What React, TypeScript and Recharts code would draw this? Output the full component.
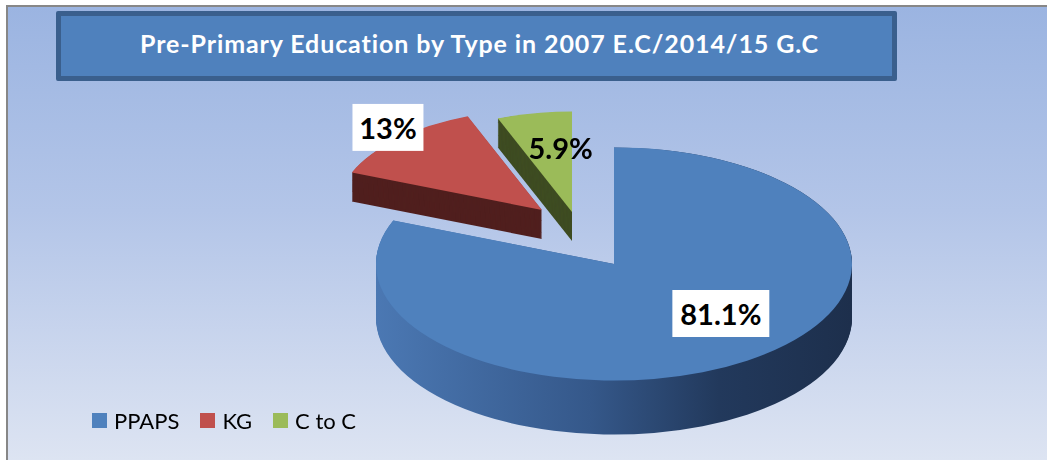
import React from 'react';
import { PieChart, Pie, Cell } from 'recharts';

const title = 'Pre-Primary Education by Type in 2007 E.C/2014/15 G.C';
const categories = ['PPAPS', 'KG', 'C to C'];
const values = [81.1, 13, 5.9];
const topColors = ['#4f81bd', '#c0504d', '#9bbb59'];
const sideColors = ['url(#blueSide)', '#501f1e', '#3f4c22'];

const data = categories.map((name, i) => ({ name, value: values[i] }));

const W = 1047;
const H = 460;
const S = 0.49; // vertical squash of the pie (3D tilt)
const HU = Math.ceil(H / S);

// per-slice placement in screen px (explosion / perspective styling)
const geom = [
  { cx: 614, cy: 264, r: 238, depth: 54, dx: 7, dy: -23, box: true },
  { cx: 542, cy: 210, r: 205, depth: 29, dx: -46, dy: -29, box: true },
  { cx: 572, cy: 212, r: 205, depth: 29, dx: 17, dy: 10, box: false },
];
const drawOrder = [2, 1, 0];
const RAD = Math.PI / 180;

const makeLabel = (target: number) => (props: any) => {
  const { cx, cy, midAngle, outerRadius, index, value } = props;
  if (index !== target) return <g />;
  const g = geom[target];
  const k = 0.75;
  const x = cx + k * outerRadius * Math.cos(-midAngle * RAD) + g.dx;
  const y = cy + k * outerRadius * Math.sin(-midAngle * RAD) + g.dy / S;
  const txt = `${value}%`;
  const w = 13 * txt.length + 32;
  const h = 47;
  return (
    <g transform={`translate(${x},${y}) scale(1,${1 / S})`}>
      {g.box && <rect x={-w / 2} y={-h / 2} width={w} height={h} fill="#ffffff" />}
      <text
        x={0}
        y={0}
        textAnchor="middle"
        dominantBaseline="central"
        fontFamily="Lato, 'Open Sans', sans-serif"
        fontWeight={700}
        fontSize={29}
        fill="#000000"
      >
        {txt}
      </text>
    </g>
  );
};

function slicePies(i: number) {
  const g = geom[i];
  const cyU = g.cy / S;
  const depthU = g.depth / S;
  const out: React.ReactNode[] = [];
  for (let d = depthU; d > 0; d -= 2) {
    out.push(
      <Pie
        key={`side-${i}-${d}`}
        data={data}
        dataKey="value"
        nameKey="name"
        cx={g.cx}
        cy={cyU + d}
        outerRadius={g.r}
        startAngle={90}
        endAngle={-270}
        stroke="none"
        isAnimationActive={false}
        legendType="none"
      >
        {data.map((_, j) => (
          <Cell key={j} fill={j === i ? sideColors[i] : 'none'} stroke="none" />
        ))}
      </Pie>
    );
  }
  out.push(
    <Pie
      key={`top-${i}`}
      data={data}
      dataKey="value"
      nameKey="name"
      cx={g.cx}
      cy={cyU}
      outerRadius={g.r}
      startAngle={90}
      endAngle={-270}
      stroke="none"
      isAnimationActive={false}
      legendType="none"
      label={makeLabel(i)}
      labelLine={false}
    >
      {data.map((_, j) => (
        <Cell key={j} fill={j === i ? topColors[i] : 'none'} stroke="none" />
      ))}
    </Pie>
  );
  return out;
}

export default function App() {
  return (
    <div
      style={{
        position: 'absolute',
        left: 0,
        top: 0,
        width: W,
        height: H,
        overflow: 'hidden',
        background: '#ffffff',
        fontFamily: 'Lato, sans-serif',
      }}
    >
      <div
        style={{
          position: 'absolute',
          left: 6,
          top: 5,
          width: W - 6,
          height: H - 5,
          boxSizing: 'border-box',
          borderTop: '2px solid #878787',
          borderLeft: '2px solid #878787',
          background: 'linear-gradient(to bottom, #9bb4e1 0%, #b3c5e8 45%, #dde4f2 100%)',
        }}
      />
      <div style={{ position: 'absolute', left: 0, top: 0, transform: `scaleY(${S})`, transformOrigin: '0 0' }}>
        <PieChart width={W} height={HU} margin={{ top: 0, right: 0, bottom: 0, left: 0 }}>
          <defs>
            <linearGradient id="blueSide" gradientUnits="userSpaceOnUse" x1={376} y1={0} x2={852} y2={0}>
              <stop offset="0%" stopColor="#4b78b3" />
              <stop offset="45%" stopColor="#35588a" />
              <stop offset="72%" stopColor="#22395c" />
              <stop offset="100%" stopColor="#1d2f4c" />
            </linearGradient>
          </defs>
          {drawOrder.flatMap((i) => slicePies(i))}
        </PieChart>
      </div>

      <div
        style={{
          position: 'absolute',
          left: 56,
          top: 11,
          width: 841,
          height: 70,
          boxSizing: 'border-box',
          background: '#4f81bd',
          border: '5px solid #3a5f8d',
          borderRadius: 2,
          color: '#ffffff',
          fontWeight: 700,
          fontSize: 25,
          letterSpacing: 0.9,
          display: 'flex',
          alignItems: 'center',
          justifyContent: 'center',
          paddingBottom: 7,
          paddingLeft: 6,
        }}
      >
        {title}
      </div>

      <div style={{ position: 'absolute', left: 92, top: 407, display: 'flex', alignItems: 'center', fontSize: 22, color: '#000' }}>
        {categories.map((c, i) => (
          <div key={c} style={{ display: 'flex', alignItems: 'center', marginRight: 21 }}>
            <div style={{ width: 15, height: 15, background: topColors[i], marginRight: 7 }} />
            <span>{c}</span>
          </div>
        ))}
      </div>
    </div>
  );
}
